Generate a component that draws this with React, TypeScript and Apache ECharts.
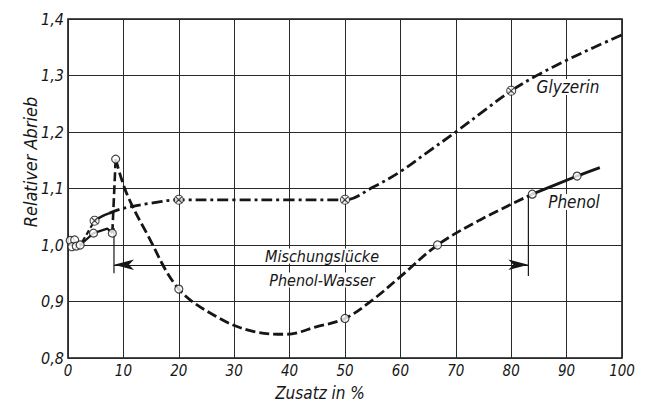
import React, { useEffect, useRef } from "react";
import * as echarts from "echarts";

// ---- data ----
const xTicks = [0, 10, 20, 30, 40, 50, 60, 70, 80, 90, 100];
const yTicks = [0.8, 0.9, 1.0, 1.1, 1.2, 1.3, 1.4];

// Phenol (dashed curve, open circles)
const phenolLead = [[2.2, 1.0], [4.6, 1.021], [7.1, 1.029], [8.0, 1.021]];
const phenolRise = [[8.0, 1.021], [8.6, 1.152]];
const phenolCurve = [
  [8.6, 1.152], [10.6, 1.091], [14.2, 1.021], [20, 0.922], [27.4, 0.87],
  [33.4, 0.847], [39.4, 0.842], [44.8, 0.855], [50, 0.87], [55, 0.903],
  [60, 0.944], [66.7, 1.0], [74.3, 1.044], [83.8, 1.09],
];
const phenolTail = [[83.8, 1.09], [91.9, 1.122], [96, 1.137]];
const phenolPoints = [
  [0.4, 1.008], [1.2, 1.009], [0.7, 0.997], [1.5, 0.998], [2.2, 1.0],
  [4.6, 1.021], [8.0, 1.021], [8.6, 1.152], [20, 0.922], [50, 0.87],
  [66.7, 1.0], [83.8, 1.09], [91.9, 1.122],
];

// Glyzerin (dash-dot curve, crossed circles)
const glyLead = [[2.6, 1.006], [4.8, 1.043]];
const glyShort = [[4.8, 1.043], [6.2, 1.051], [7.4, 1.056]];
const glyCurve = [
  [7.4, 1.056], [10, 1.065], [15, 1.074], [20, 1.08], [30, 1.08], [40, 1.08],
  [50, 1.08], [55, 1.102], [60, 1.13], [65, 1.165], [70, 1.2], [75, 1.237],
  [80, 1.273], [85, 1.302], [90, 1.327], [95, 1.35], [100, 1.372],
];
const glyPoints = [[4.8, 1.043], [20, 1.08], [50, 1.08], [80, 1.273]];

// Mischungslücke Phenol-Wasser
const gapLeft = [[8.3, 1.03], [8.3, 0.95]];
const gapRight = [[83.1, 1.085], [83.1, 0.945]];
const gapArrow = [[8.3, 0.965], [83.1, 0.965]];

const INK = "#161616";
const FONT = "'Liberation Sans Narrow','DejaVu Sans Condensed','DejaVu Sans',sans-serif";
const CROSS_CIRCLE =
  "path://M1,10A9,9,0,1,1,19,10A9,9,0,1,1,1,10Z M3.6,3.6L16.4,16.4M16.4,3.6L3.6,16.4";

export default function App() {
  const ref = useRef<HTMLDivElement>(null);

  useEffect(() => {
    if (!ref.current) return;
    const chart = echarts.init(ref.current, undefined, { renderer: "svg" });

    const lineSeries = (data: number[][], type: any, smooth: number | boolean, width = 2.6) => ({
      type: "line",
      data,
      smooth,
      showSymbol: false,
      symbol: "none",
      silent: true,
      lineStyle: { color: INK, width, type, cap: "butt" },
      z: 3,
    });

    const textStyle = (size: number) => ({
      fontFamily: FONT,
      fontStyle: "italic",
      fontSize: size,
      fill: INK,
    });

    chart.setOption({
      animation: false,
      backgroundColor: "#ffffff",
      grid: {
        left: 68,
        right: 26,
        top: 19,
        bottom: 47,
        show: true,
        borderColor: INK,
        borderWidth: 1.6,
        backgroundColor: "transparent",
      },
      xAxis: {
        type: "value",
        min: xTicks[0],
        max: xTicks[xTicks.length - 1],
        interval: 10,
        axisLine: { show: false },
        axisTick: { show: false },
        splitLine: { show: true, lineStyle: { color: "#2a2a2a", width: 1 } },
        axisLabel: {
          color: INK,
          fontFamily: FONT,
          fontStyle: "italic",
          fontSize: 15,
          margin: 5,
          formatter: (v: number) => String(v),
        },
      },
      yAxis: {
        type: "value",
        min: yTicks[0],
        max: yTicks[yTicks.length - 1],
        interval: 0.1,
        axisLine: { show: false },
        axisTick: { show: false },
        splitLine: { show: true, lineStyle: { color: "#2a2a2a", width: 1 } },
        axisLabel: {
          color: INK,
          fontFamily: FONT,
          fontStyle: "italic",
          fontSize: 16,
          margin: 4,
          formatter: (v: number) => v.toFixed(1).replace(".", ","),
        },
      },
      series: [
        lineSeries(glyLead, [5, 3], false, 2.2),
        lineSeries(glyShort, "solid", true, 2.4),
        lineSeries(glyCurve, [11, 4, 3, 4], 0.35, 2.8),
        lineSeries(phenolLead, "solid", false, 2.2),
        lineSeries(phenolRise, [9, 4], false, 2.6),
        lineSeries(phenolCurve, [10, 4], 0.35, 2.8),
        lineSeries(phenolTail, "solid", 0.3, 2.8),
        {
          ...lineSeries(gapLeft, "solid", false, 1.2),
          markLine: {
            silent: true,
            symbol: ["arrow", "arrow"],
            symbolSize: [8, 20],
            label: { show: false },
            lineStyle: { color: INK, width: 1.2, type: "solid" },
            data: [[{ coord: gapArrow[0] }, { coord: gapArrow[1] }]],
          },
        },
        lineSeries(gapRight, "solid", false, 1.2),
        {
          type: "scatter",
          data: phenolPoints,
          symbol: "circle",
          symbolSize: 8,
          silent: true,
          itemStyle: { color: "#ffffff", borderColor: INK, borderWidth: 1.2 },
          z: 5,
        },
        {
          type: "scatter",
          data: glyPoints,
          symbol: CROSS_CIRCLE,
          symbolSize: 9,
          silent: true,
          itemStyle: { color: "#ffffff", borderColor: INK, borderWidth: 1.1 },
          z: 5,
        },
      ],
      graphic: [
        {
          type: "text",
          x: 322,
          y: 256,
          z: 10,
          style: {
            ...textStyle(16),
            text: "Mischungslücke",
            align: "center",
            verticalAlign: "middle",
            backgroundColor: "#ffffff",
            padding: [0, 2],
            lineHeight: 15,
          },
        },
        {
          type: "text",
          x: 322,
          y: 280,
          z: 10,
          style: {
            ...textStyle(16),
            text: "Phenol-Wasser",
            align: "center",
            verticalAlign: "middle",
            backgroundColor: "#ffffff",
            padding: [0, 2],
            lineHeight: 15,
          },
        },
        {
          type: "text",
          x: 568,
          y: 87,
          z: 10,
          style: {
            ...textStyle(17),
            text: "Glyzerin",
            align: "center",
            verticalAlign: "middle",
            backgroundColor: "#ffffff",
            padding: [0, 2],
            lineHeight: 16,
          },
        },
        {
          type: "text",
          x: 574,
          y: 202,
          z: 10,
          style: {
            ...textStyle(17),
            text: "Phenol",
            align: "center",
            verticalAlign: "middle",
            backgroundColor: "#ffffff",
            padding: [0, 2],
            lineHeight: 16,
          },
        },
        {
          type: "text",
          x: 30,
          y: 162,
          rotation: Math.PI / 2,
          style: {
            ...textStyle(18),
            text: "Relativer Abrieb",
            align: "center",
            verticalAlign: "middle",
          },
        },
        {
          type: "text",
          x: 320,
          y: 393,
          style: {
            ...textStyle(17),
            text: "Zusatz in %",
            align: "center",
            verticalAlign: "middle",
          },
        },
      ],
    });

    return () => chart.dispose();
  }, []);

  return (
    <div
      ref={ref}
      style={{ position: "fixed", left: 0, top: 0, width: 648, height: 405, background: "#fff" }}
    />
  );
}
